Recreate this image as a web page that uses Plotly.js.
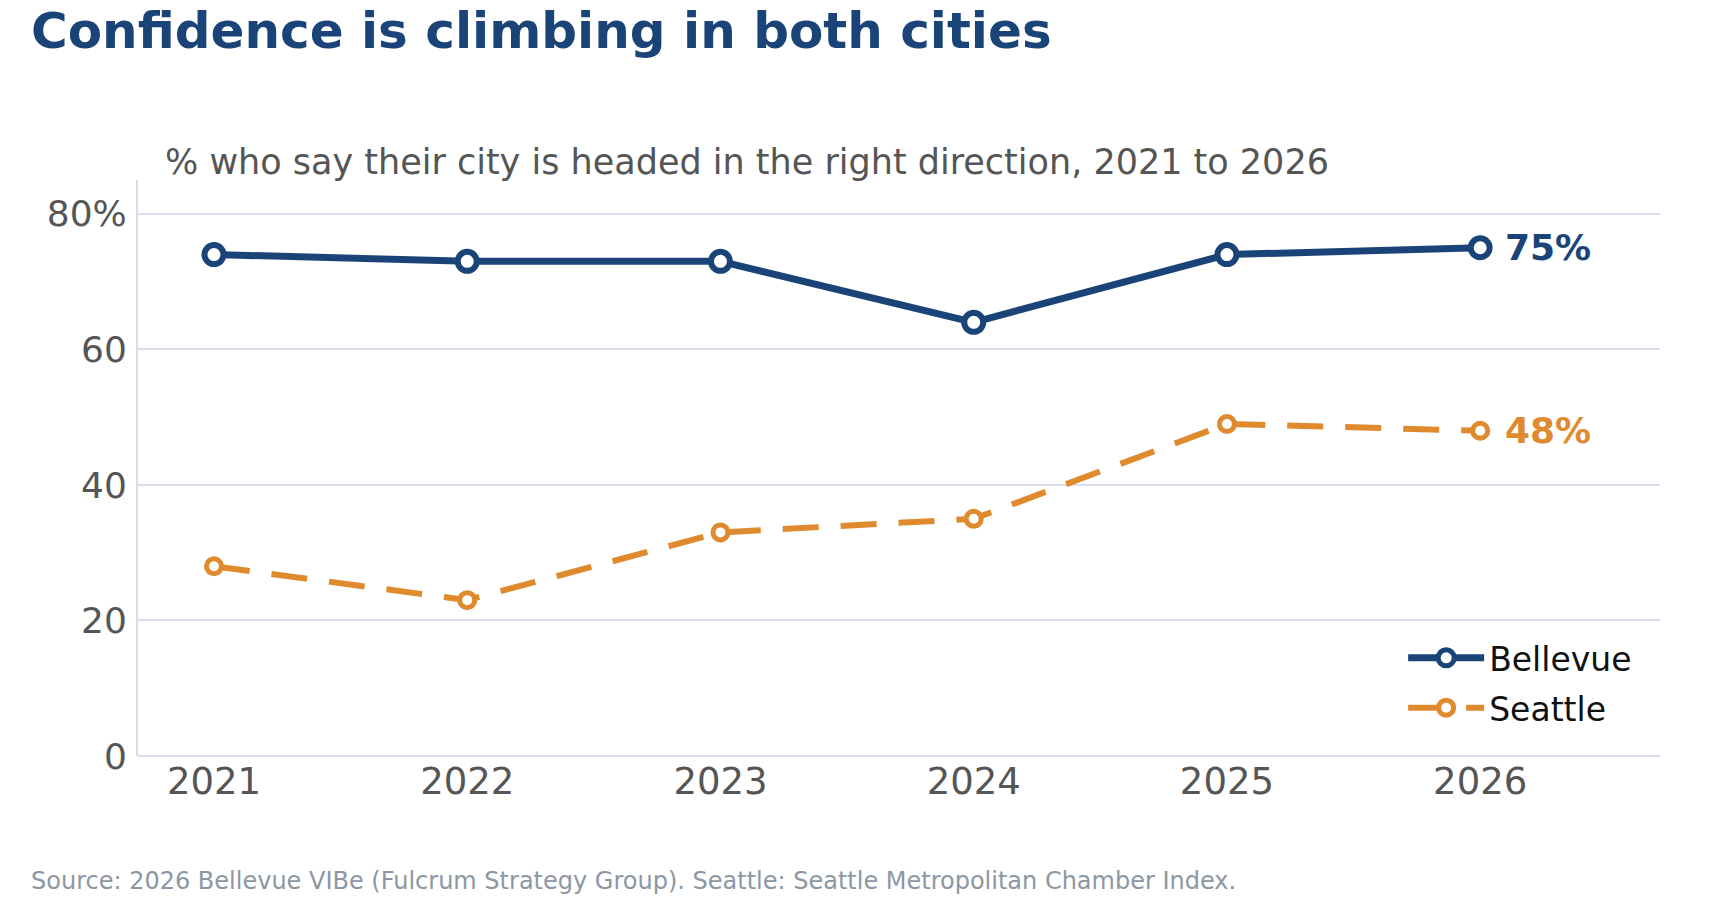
<!DOCTYPE html>
<html>
<head>
<meta charset="utf-8">
<script src="https://cdn.plot.ly/plotly-3.0.1.min.js"></script>
<style>html,body{margin:0;padding:0;background:#fff;}#chart{width:1720px;height:900px;}</style>
</head>
<body>
<div id="chart"></div>
<script>
const years = [2021, 2022, 2023, 2024, 2025, 2026];
const bellevue = [74, 73, 73, 64, 74, 75];
const seattle = [28, 23, 33, 35, 49, 48];
const seriesNames = ["Bellevue", "Seattle"];
const yTickVals = [0, 20, 40, 60, 80];
const yTickText = ["0", "20", "40", "60", "80%"];
const endLabels = ["75%", "48%"];

const navy = "#1a4478";
const orange = "#e08a2e";
const gridCol = "#d6dfe9";
const FONT = "DejaVu Sans, sans-serif";
const PLOT_H = 576;

const traces = [
  {
    x: years, y: bellevue, name: seriesNames[0], type: "scatter", mode: "lines+markers",
    legendgroup: "g1",
    line: {color: navy, width: 7},
    marker: {symbol: "circle", size: 19, color: "#ffffff", line: {color: navy, width: 6}},
    hoverinfo: "skip"
  },
  {
    x: years, y: seattle, name: seriesNames[1], type: "scatter", mode: "lines+markers",
    legendgroup: "g2",
    line: {color: orange, width: 6, dash: "36px,22px"},
    marker: {symbol: "circle", size: 15, color: "#ffffff", line: {color: orange, width: 5}},
    hoverinfo: "skip"
  }
];

const layout = {
  width: 1720, height: 900,
  paper_bgcolor: "#ffffff", plot_bgcolor: "#ffffff",
  margin: {l: 138, r: 60, t: 180, b: 144},
  font: {family: FONT, color: "#555555"},
  xaxis: {
    type: "linear", range: [2020.7, 2026.71],
    tickvals: years, ticktext: years.map(String),
    anchor: "free", position: 0,
    showgrid: false, zeroline: false, showline: false,
    ticks: "", tickfont: {family: FONT, size: 37, color: "#555555"}, ticklabelstandoff: 0,
    fixedrange: true
  },
  yaxis: {
    range: [0, 85], tickvals: yTickVals, ticktext: yTickText,
    showgrid: true, gridcolor: gridCol, gridwidth: 2,
    zeroline: true, zerolinecolor: gridCol, zerolinewidth: 2,
    showline: true, linecolor: gridCol, linewidth: 2,
    ticks: "", tickfont: {family: FONT, size: 36, color: "#555555"}, ticklabelstandoff: 2,
    fixedrange: true
  },
  showlegend: true,
  legend: {
    x: 0.985, xanchor: "right", y: 0.035, yanchor: "bottom",
    font: {family: FONT, size: 33, color: "#111111"},
    bgcolor: "rgba(255,255,255,0)", itemwidth: 76, tracegroupgap: 4
  },
  annotations: [
    {
      text: "<b>Confidence is climbing in both cities</b>",
      xref: "paper", yref: "paper", x: (29 - 138) / 1522, y: 1 + 180 / PLOT_H,
      xanchor: "left", yanchor: "top", showarrow: false,
      font: {family: FONT, size: 50, color: navy}
    },
    {
      text: "% who say their city is headed in the right direction, 2021 to 2026",
      xref: "paper", yref: "paper", x: (163 - 138) / 1522, y: 1, xanchor: "left", yanchor: "bottom",
      yshift: -4, showarrow: false, font: {family: FONT, size: 35, color: "#555555"}
    },
    {
      text: "Source: 2026 Bellevue VIBe (Fulcrum Strategy Group). Seattle: Seattle Metropolitan Chamber Index.",
      xref: "paper", yref: "paper", x: (29 - 138) / 1522, y: (756 - 881) / PLOT_H, xanchor: "left", yanchor: "middle",
      showarrow: false, font: {family: FONT, size: 24, color: "#8c97a3"}
    },
    {
      text: "<b>" + endLabels[0] + "</b>", x: years[5], y: bellevue[5], xref: "x", yref: "y",
      xanchor: "left", yanchor: "middle", xshift: 23, showarrow: false,
      font: {family: FONT, size: 36, color: navy}
    },
    {
      text: "<b>" + endLabels[1] + "</b>", x: years[5], y: seattle[5], xref: "x", yref: "y",
      xanchor: "left", yanchor: "middle", xshift: 23, showarrow: false,
      font: {family: FONT, size: 36, color: orange}
    }
  ]
};

Plotly.newPlot("chart", traces, layout, {displayModeBar: false, staticPlot: true});
</script>
</body>
</html>
